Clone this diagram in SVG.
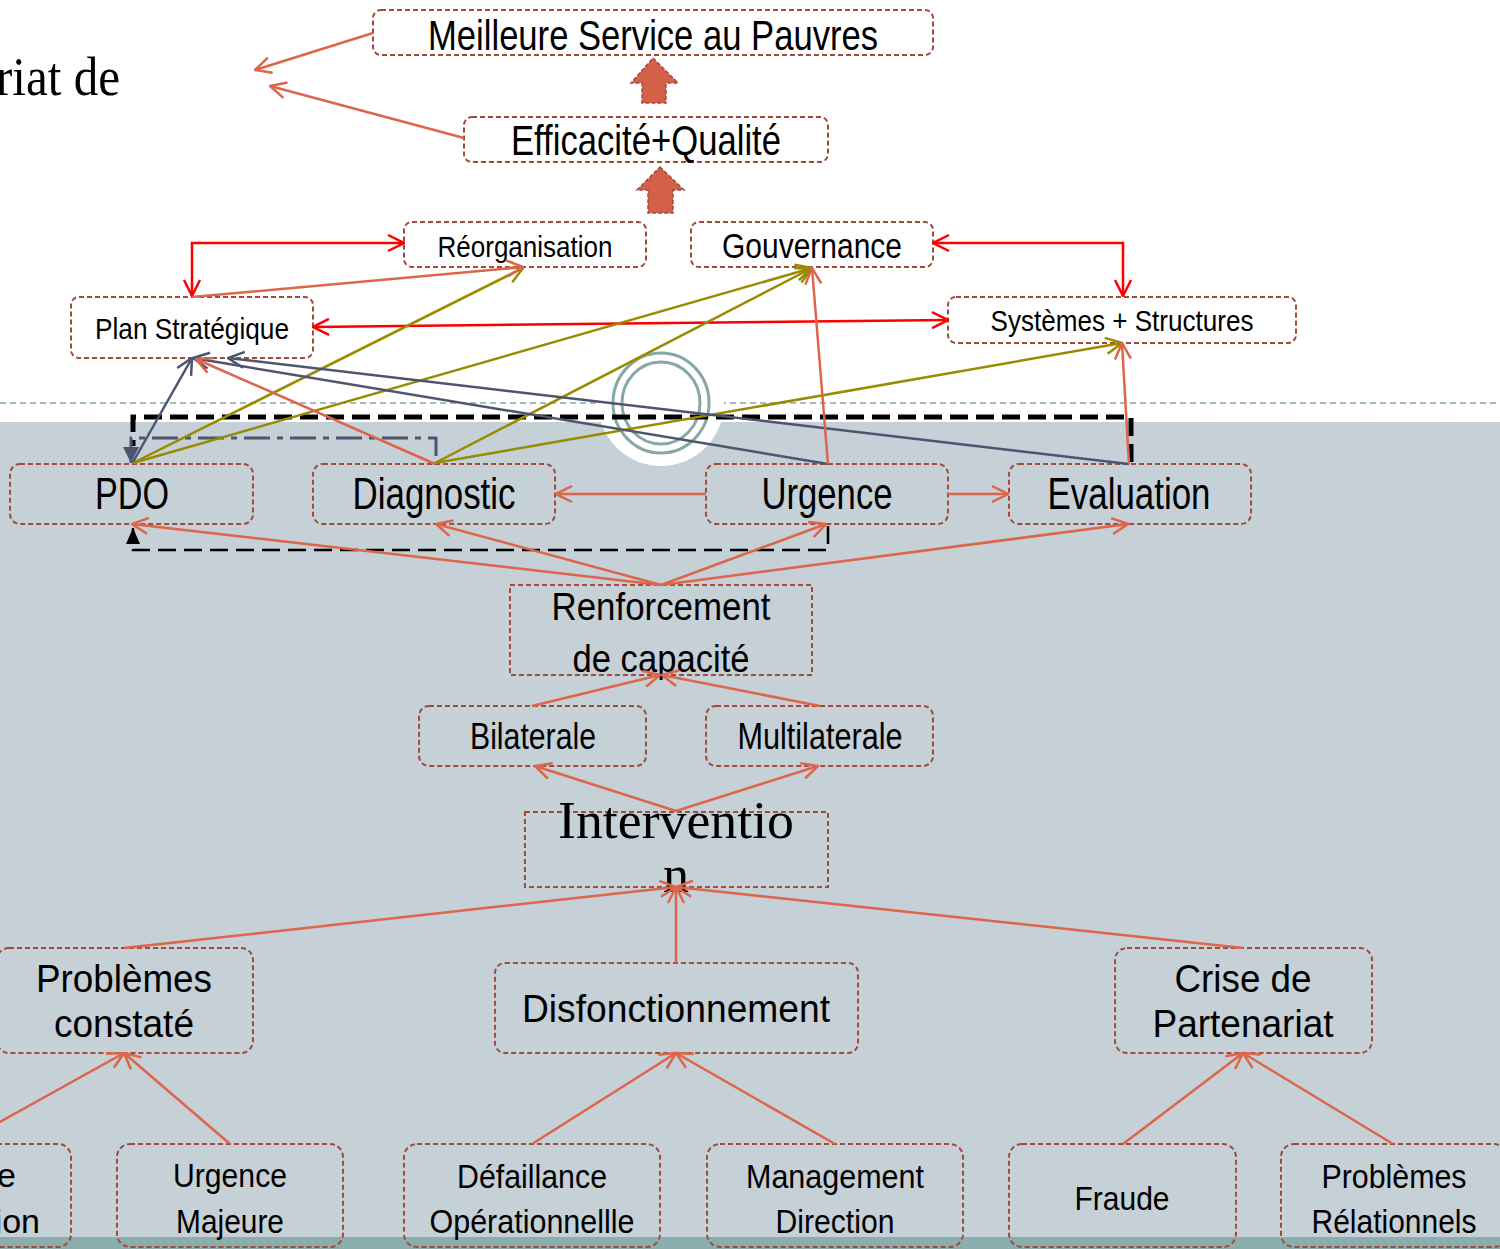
<svg xmlns="http://www.w3.org/2000/svg" width="1500" height="1249" viewBox="0 0 1500 1249">
  <style>
    .box { fill: none; stroke: #A24B3B; stroke-width: 2; stroke-dasharray: 5 3; }
    .t { font-family: "Liberation Sans Narrow", "Liberation Sans", Arial, sans-serif; fill: #000; text-anchor: middle; }
    .serif { font-family: "Liberation Serif", "Times New Roman", serif; fill: #000; }
    .up { fill: #D4604A; stroke: #A24B3B; stroke-width: 1.5; stroke-dasharray: 4 2; }
    .c { fill: none; stroke-width: 2.5; }
    .o { stroke: #DD6549; marker-end: url(#ao); }
    .r { stroke: #FF0000; marker-start: url(#ar); marker-end: url(#ar); }
    .ol { stroke: #9A8A00; marker-end: url(#aol); }
    .sl { stroke: #4E5470; marker-end: url(#asl); }
  </style>
  <defs>
    <marker id="ao" viewBox="0 0 20 20" refX="19" refY="10" markerWidth="20" markerHeight="20" markerUnits="userSpaceOnUse" orient="auto-start-reverse">
      <path d="M3,2 L19,10 L3,18" fill="none" stroke="#DD6549" stroke-width="2.5"/>
    </marker>
    <marker id="ar" viewBox="0 0 20 20" refX="19" refY="10" markerWidth="20" markerHeight="20" markerUnits="userSpaceOnUse" orient="auto-start-reverse">
      <path d="M3,2 L19,10 L3,18" fill="none" stroke="#FF0000" stroke-width="2.5"/>
    </marker>
    <marker id="aol" viewBox="0 0 20 20" refX="19" refY="10" markerWidth="20" markerHeight="20" markerUnits="userSpaceOnUse" orient="auto">
      <path d="M3,2 L19,10 L3,18" fill="none" stroke="#9A8A00" stroke-width="2.5"/>
    </marker>
    <marker id="asl" viewBox="0 0 20 20" refX="19" refY="10" markerWidth="20" markerHeight="20" markerUnits="userSpaceOnUse" orient="auto">
      <path d="M3,2 L19,10 L3,18" fill="none" stroke="#4E5470" stroke-width="2.5"/>
    </marker>
    <marker id="tsl" viewBox="0 0 16 16" refX="16" refY="8" markerWidth="16" markerHeight="16" markerUnits="userSpaceOnUse" orient="auto">
      <path d="M0,0 L16,8 L0,16 Z" fill="#4E5470"/>
    </marker>
    <marker id="tbk" viewBox="0 0 16 16" refX="16" refY="8" markerWidth="16" markerHeight="16" markerUnits="userSpaceOnUse" orient="auto">
      <path d="M0,1 L16,8 L0,15 Z" fill="#000"/>
    </marker>
  </defs>

  <!-- backdrop -->
  <rect x="0" y="0" width="1500" height="1249" fill="#FFFFFF"/>
  <rect x="0" y="422" width="1500" height="827" fill="#C5D0D7"/>
  <rect x="0" y="1237" width="1500" height="12" fill="#8AADAD"/>
  <line x1="0" y1="403" x2="1500" y2="403" stroke="#86A9A8" stroke-width="1.5" stroke-dasharray="6 4"/>
  <circle cx="661" cy="403" r="63" fill="#FFFFFF"/>
  <ellipse cx="661" cy="403" rx="48" ry="50" fill="none" stroke="#86A9A8" stroke-width="3"/>
  <ellipse cx="661" cy="403" rx="39" ry="41" fill="none" stroke="#86A9A8" stroke-width="3"/>
  <text class="serif" x="120" y="95" font-size="54" text-anchor="end" textLength="124" lengthAdjust="spacingAndGlyphs">riat de</text>

  <!-- block arrows -->
  <g id="up-arrow-1"><path class="up" d="M653,58 L678,83 L666,83 L666,103 L642,103 L642,83 L631,83 Z"/></g>
  <g id="up-arrow-2"><path class="up" d="M660,167 L684,190 L673,190 L673,213 L648,213 L648,190 L637,190 Z"/></g>

  <!-- nodes -->
  <g id="meilleure-service">
    <rect class="box" x="373" y="10" width="560" height="45" rx="8"/>
    <text class="t" x="653" y="50" font-size="42" textLength="450" lengthAdjust="spacingAndGlyphs">Meilleure Service au Pauvres</text>
  </g>
  <g id="efficacite-qualite">
    <rect class="box" x="464" y="117" width="364" height="45" rx="8"/>
    <text class="t" x="646" y="155" font-size="42" textLength="270" lengthAdjust="spacingAndGlyphs">Efficacité+Qualité</text>
  </g>
  <g id="reorganisation">
    <rect class="box" x="404" y="222" width="242" height="45" rx="8"/>
    <text class="t" x="525" y="257" font-size="30" textLength="175" lengthAdjust="spacingAndGlyphs">Réorganisation</text>
  </g>
  <g id="gouvernance">
    <rect class="box" x="691" y="222" width="242" height="45" rx="8"/>
    <text class="t" x="812" y="258" font-size="35" textLength="180" lengthAdjust="spacingAndGlyphs">Gouvernance</text>
  </g>
  <g id="plan-strategique">
    <rect class="box" x="71" y="297" width="242" height="61" rx="8"/>
    <text class="t" x="192" y="339" font-size="30" textLength="194" lengthAdjust="spacingAndGlyphs">Plan Stratégique</text>
  </g>
  <g id="systemes-structures">
    <rect class="box" x="948" y="297" width="348" height="46" rx="8"/>
    <text class="t" x="1122" y="331" font-size="30" textLength="263" lengthAdjust="spacingAndGlyphs">Systèmes + Structures</text>
  </g>
  <g id="pdo">
    <rect class="box" x="10" y="464" width="243" height="60" rx="10"/>
    <text class="t" x="132" y="509" font-size="44" textLength="74" lengthAdjust="spacingAndGlyphs">PDO</text>
  </g>
  <g id="diagnostic">
    <rect class="box" x="313" y="464" width="242" height="60" rx="10"/>
    <text class="t" x="434" y="509" font-size="44" textLength="163" lengthAdjust="spacingAndGlyphs">Diagnostic</text>
  </g>
  <g id="urgence">
    <rect class="box" x="706" y="464" width="242" height="60" rx="10"/>
    <text class="t" x="827" y="509" font-size="44" textLength="131" lengthAdjust="spacingAndGlyphs">Urgence</text>
  </g>
  <g id="evaluation">
    <rect class="box" x="1009" y="464" width="242" height="60" rx="10"/>
    <text class="t" x="1129" y="509" font-size="44" textLength="163" lengthAdjust="spacingAndGlyphs">Evaluation</text>
  </g>
  <g id="renforcement">
    <rect class="box" x="510" y="585" width="302" height="90"/>
    <text class="t" x="661" y="620" font-size="38" textLength="219" lengthAdjust="spacingAndGlyphs">Renforcement</text>
    <text class="t" x="661" y="672" font-size="38" textLength="177" lengthAdjust="spacingAndGlyphs">de capacité</text>
  </g>
  <g id="bilaterale">
    <rect class="box" x="419" y="706" width="227" height="60" rx="10"/>
    <text class="t" x="533" y="749" font-size="36" textLength="126" lengthAdjust="spacingAndGlyphs">Bilaterale</text>
  </g>
  <g id="multilaterale">
    <rect class="box" x="706" y="706" width="227" height="60" rx="10"/>
    <text class="t" x="820" y="749" font-size="36" textLength="165" lengthAdjust="spacingAndGlyphs">Multilaterale</text>
  </g>
  <g id="intervention">
    <rect class="box" x="525" y="812" width="303" height="75"/>
    <text class="serif" x="676" y="838" font-size="52" text-anchor="middle" textLength="236" lengthAdjust="spacingAndGlyphs">Interventio</text>
    <text class="serif" x="676" y="892" font-size="52" text-anchor="middle">n</text>
  </g>
  <g id="problemes-constate">
    <rect class="box" x="-3" y="948" width="256" height="105" rx="12"/>
    <text class="t" x="124" y="992" font-size="38" textLength="176" lengthAdjust="spacingAndGlyphs">Problèmes</text>
    <text class="t" x="124" y="1037" font-size="38" textLength="140" lengthAdjust="spacingAndGlyphs">constaté</text>
  </g>
  <g id="disfonctionnement">
    <rect class="box" x="495" y="963" width="363" height="90" rx="10"/>
    <text class="t" x="676" y="1022" font-size="38" textLength="308" lengthAdjust="spacingAndGlyphs">Disfonctionnement</text>
  </g>
  <g id="crise-partenariat">
    <rect class="box" x="1115" y="948" width="257" height="105" rx="12"/>
    <text class="t" x="1243" y="992" font-size="38" textLength="137" lengthAdjust="spacingAndGlyphs">Crise de</text>
    <text class="t" x="1243" y="1037" font-size="38" textLength="181" lengthAdjust="spacingAndGlyphs">Partenariat</text>
  </g>
  <g id="gestion-partielle">
    <rect class="box" x="-160" y="1144" width="231" height="103" rx="13"/>
    <text class="t" x="16" y="1187" font-size="34" text-anchor="end" style="text-anchor:end">e</text>
    <text class="t" x="40" y="1233" font-size="34" style="text-anchor:end">ion</text>
  </g>
  <g id="urgence-majeure">
    <rect class="box" x="117" y="1144" width="226" height="103" rx="13"/>
    <text class="t" x="230" y="1187" font-size="34" textLength="114" lengthAdjust="spacingAndGlyphs">Urgence</text>
    <text class="t" x="230" y="1233" font-size="34" textLength="108" lengthAdjust="spacingAndGlyphs">Majeure</text>
  </g>
  <g id="defaillance">
    <rect class="box" x="404" y="1144" width="256" height="103" rx="13"/>
    <text class="t" x="532" y="1188" font-size="34" textLength="150" lengthAdjust="spacingAndGlyphs">Défaillance</text>
    <text class="t" x="532" y="1233" font-size="34" textLength="205" lengthAdjust="spacingAndGlyphs">Opérationnellle</text>
  </g>
  <g id="management">
    <rect class="box" x="707" y="1144" width="256" height="103" rx="13"/>
    <text class="t" x="835" y="1188" font-size="34" textLength="178" lengthAdjust="spacingAndGlyphs">Management</text>
    <text class="t" x="835" y="1233" font-size="34" textLength="119" lengthAdjust="spacingAndGlyphs">Direction</text>
  </g>
  <g id="fraude">
    <rect class="box" x="1009" y="1144" width="227" height="103" rx="13"/>
    <text class="t" x="1122" y="1210" font-size="34" textLength="95" lengthAdjust="spacingAndGlyphs">Fraude</text>
  </g>
  <g id="problemes-relationnels">
    <rect class="box" x="1281" y="1144" width="226" height="103" rx="13"/>
    <text class="t" x="1394" y="1188" font-size="34" textLength="145" lengthAdjust="spacingAndGlyphs">Problèmes</text>
    <text class="t" x="1394" y="1233" font-size="34" textLength="165" lengthAdjust="spacingAndGlyphs">Rélationnels</text>
  </g>

  <!-- connectors -->
  <g id="connectors">
    <!-- loops drawn in black and slate -->
    <path d="M1131,462 V417 H133 V446" fill="none" stroke="#000" stroke-width="5" stroke-dasharray="18 8"/>
    <path d="M436,456 V438 H131 V463" fill="none" stroke="#4E5470" stroke-width="3" stroke-dasharray="26 7 6 7" marker-end="url(#tsl)"/>
    <path d="M828,526 V550 H133 V528" fill="none" stroke="#000" stroke-width="2.5" stroke-dasharray="18 8" marker-end="url(#tbk)"/>

    <!-- red two-way links -->
    <path class="c r" d="M404,243 H192 V296"/>
    <path class="c r" d="M933,243 H1123 V296"/>
    <path class="c r" d="M313,327 L948,320"/>

    <!-- olive -->
    <path class="c ol" d="M133,463 L523,268"/>
    <path class="c ol" d="M133,463 L812,268"/>
    <path class="c ol" d="M435,463 L812,268"/>
    <path class="c ol" d="M435,463 L1122,343"/>

    <!-- slate -->
    <path class="c sl" d="M133,462 L192,358"/>
    <path class="c sl" d="M828,464 L193,358"/>
    <path class="c sl" d="M1129,464 L228,358"/>

    <!-- orange -->
    <path class="c o" d="M373,33 L255,70"/>
    <path class="c o" d="M464,138 L270,86"/>
    <path class="c o" d="M192,297 L523,267"/>
    <path class="c o" d="M828,464 L812,268"/>
    <path class="c o" d="M1129,464 L1122,343"/>
    <path class="c o" d="M435,464 L196,359"/>
    <path class="c o" d="M706,494 L556,494"/>
    <path class="c o" d="M948,494 L1008,494"/>
    <path class="c o" d="M661,585 L132,524"/>
    <path class="c o" d="M661,585 L436,524"/>
    <path class="c o" d="M661,585 L826,524"/>
    <path class="c o" d="M661,585 L1128,524"/>
    <path class="c o" d="M532,706 L660,675"/>
    <path class="c o" d="M820,706 L662,675"/>
    <path class="c o" d="M676,811 L535,766"/>
    <path class="c o" d="M676,811 L818,766"/>
    <path class="c o" d="M124,948 L676,887"/>
    <path class="c o" d="M676,963 L676,887"/>
    <path class="c o" d="M1243,948 L676,887"/>
    <path class="c o" d="M-40,1144 L124,1053"/>
    <path class="c o" d="M230,1144 L124,1053"/>
    <path class="c o" d="M532,1144 L676,1053"/>
    <path class="c o" d="M835,1144 L676,1053"/>
    <path class="c o" d="M1123,1144 L1243,1053"/>
    <path class="c o" d="M1393,1144 L1243,1053"/>
  </g>
</svg>
